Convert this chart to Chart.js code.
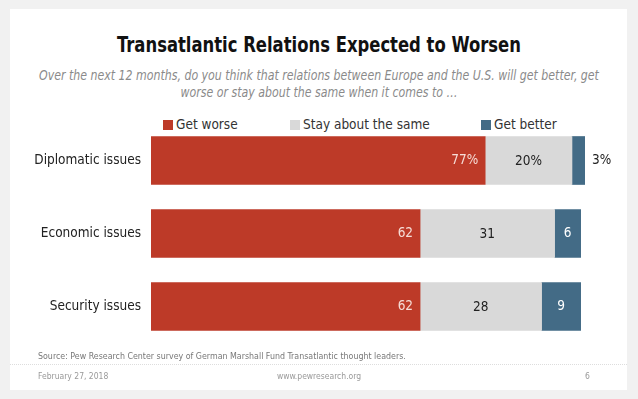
<!DOCTYPE html>
<html>
<head>
<meta charset="utf-8">
<script src="https://cdn.jsdelivr.net/npm/chart.js@4"></script>
<style>
  html, body { margin: 0; padding: 0; background: #f1f1f1; }
  body { width: 638px; height: 399px; position: relative; overflow: hidden;
         font-family: "Liberation Sans Narrow", "DejaVu Sans Condensed", Roboto, "Liberation Sans", sans-serif; }
  .card { position: absolute; left: 10px; top: 9px; width: 617px; height: 381px; background: #fff; }
  .title { position: absolute; left: 0; width: 638px; top: 32px; text-align: center;
           font-size: 22px; font-weight: bold; color: #111; transform: scaleX(0.83); }
  .sub { position: absolute; left: 0; width: 638px; top: 67px; text-align: center;
         font-size: 13.5px; font-style: italic; color: #8a8a8a; line-height: 17px; transform: scaleX(0.905); }
  .legend { position: absolute; top: 116px; font-size: 13.5px; color: #333; }
  .legend span { display: inline-block; width: 10px; height: 10px; margin-right: 3px; vertical-align: -1px; }
  .src { position: absolute; left: 38px; top: 351px; font-size: 8.8px; color: #777; }
  .rule { position: absolute; left: 10px; width: 617px; top: 364px; border-top: 1px dotted #ddd; }
  .foot { position: absolute; top: 371px; font-size: 8.5px; color: #999; }
  #wrap { position: absolute; left: 0; top: 0; width: 638px; height: 399px; }
</style>
</head>
<body>
<div class="card"></div>
<div class="title">Transatlantic Relations Expected to Worsen</div>
<div class="sub">Over the next 12 months, do you think that relations between Europe and the U.S. will get better, get<br>worse or stay about the same when it comes to …</div>
<div class="legend" style="left:163px"><span style="background:#bd3a28"></span>Get worse</div>
<div class="legend" style="left:290px"><span style="background:#d9d9d9"></span>Stay about the same</div>
<div class="legend" style="left:481px"><span style="background:#436b86"></span>Get better</div>
<div id="wrap"><canvas id="c" width="638" height="399"></canvas></div>
<div class="src">Source: Pew Research Center survey of German Marshall Fund Transatlantic thought leaders.</div>
<div class="rule"></div>
<div class="foot" style="left:38px">February 27, 2018</div>
<div class="foot" style="left:0;width:638px;text-align:center">www.pewresearch.org</div>
<div class="foot" style="left:585px">6</div>
<script>
const categories = ["Diplomatic issues", "Economic issues", "Security issues"];
const getWorse = [77, 62, 62];
const staySame = [20, 31, 28];
const getBetter = [3, 6, 9];

const seriesNames = ["Get worse", "Stay about the same", "Get better"];
const colors = ["#bd3a28", "#d9d9d9", "#436b86"];

function fmt(v, row) {
  return row === 0 ? v + "%" : String(v);
}

// value labels inside / beside the segments
const barLabels = {
  id: "barLabels",
  afterDatasetsDraw(chart) {
    const ctx = chart.ctx;
    ctx.save();
    ctx.font = "13.5px 'Liberation Sans Narrow', 'DejaVu Sans Condensed', Roboto, sans-serif";
    ctx.textBaseline = "middle";
    chart.data.datasets.forEach((ds, di) => {
      const meta = chart.getDatasetMeta(di);
      meta.data.forEach((bar, i) => {
        const txt = fmt(ds.data[i], i);
        const w = bar.x - bar.base;
        if (di === 0) {
          ctx.fillStyle = "#f6dcd6";
          ctx.textAlign = "right";
          ctx.fillText(txt, bar.x - 7, bar.y);
        } else if (di === 1) {
          ctx.fillStyle = "#222";
          ctx.textAlign = "center";
          ctx.fillText(txt, (bar.x + bar.base) / 2, bar.y + 1);
        } else if (w < 20) {
          ctx.fillStyle = "#222";
          ctx.textAlign = "left";
          ctx.fillText(txt, bar.x + 7, bar.y);
        } else {
          ctx.fillStyle = "#fff";
          ctx.textAlign = "center";
          ctx.fillText(txt, (bar.x + bar.base) / 2, bar.y);
        }
      });
    });
    ctx.restore();
  }
};

new Chart(document.getElementById("c"), {
  type: "bar",
  data: {
    labels: categories,
    datasets: [
      { label: seriesNames[0], data: getWorse, backgroundColor: colors[0] },
      { label: seriesNames[1], data: staySame, backgroundColor: colors[1] },
      { label: seriesNames[2], data: getBetter, backgroundColor: colors[2] },
    ],
  },
  options: {
    indexAxis: "y",
    responsive: false,
    animation: false,
    layout: { padding: { left: 0, right: 53, top: 124, bottom: 56 } },
    datasets: { bar: { barThickness: 48 } },
    scales: {
      x: { stacked: true, min: 0, max: 100, display: false },
      y: {
        stacked: true,
        grid: { display: false, drawTicks: false },
        border: { display: false },
        ticks: {
          padding: 10,
          color: "#222",
          font: { size: 13.5, family: "'Liberation Sans Narrow', 'DejaVu Sans Condensed', Roboto, sans-serif" },
        },
        afterFit(scale) { scale.width = 151; },
      },
    },
    plugins: {
      legend: { display: false },
      tooltip: { enabled: false },
    },
  },
  plugins: [barLabels],
});
</script>
</body>
</html>
